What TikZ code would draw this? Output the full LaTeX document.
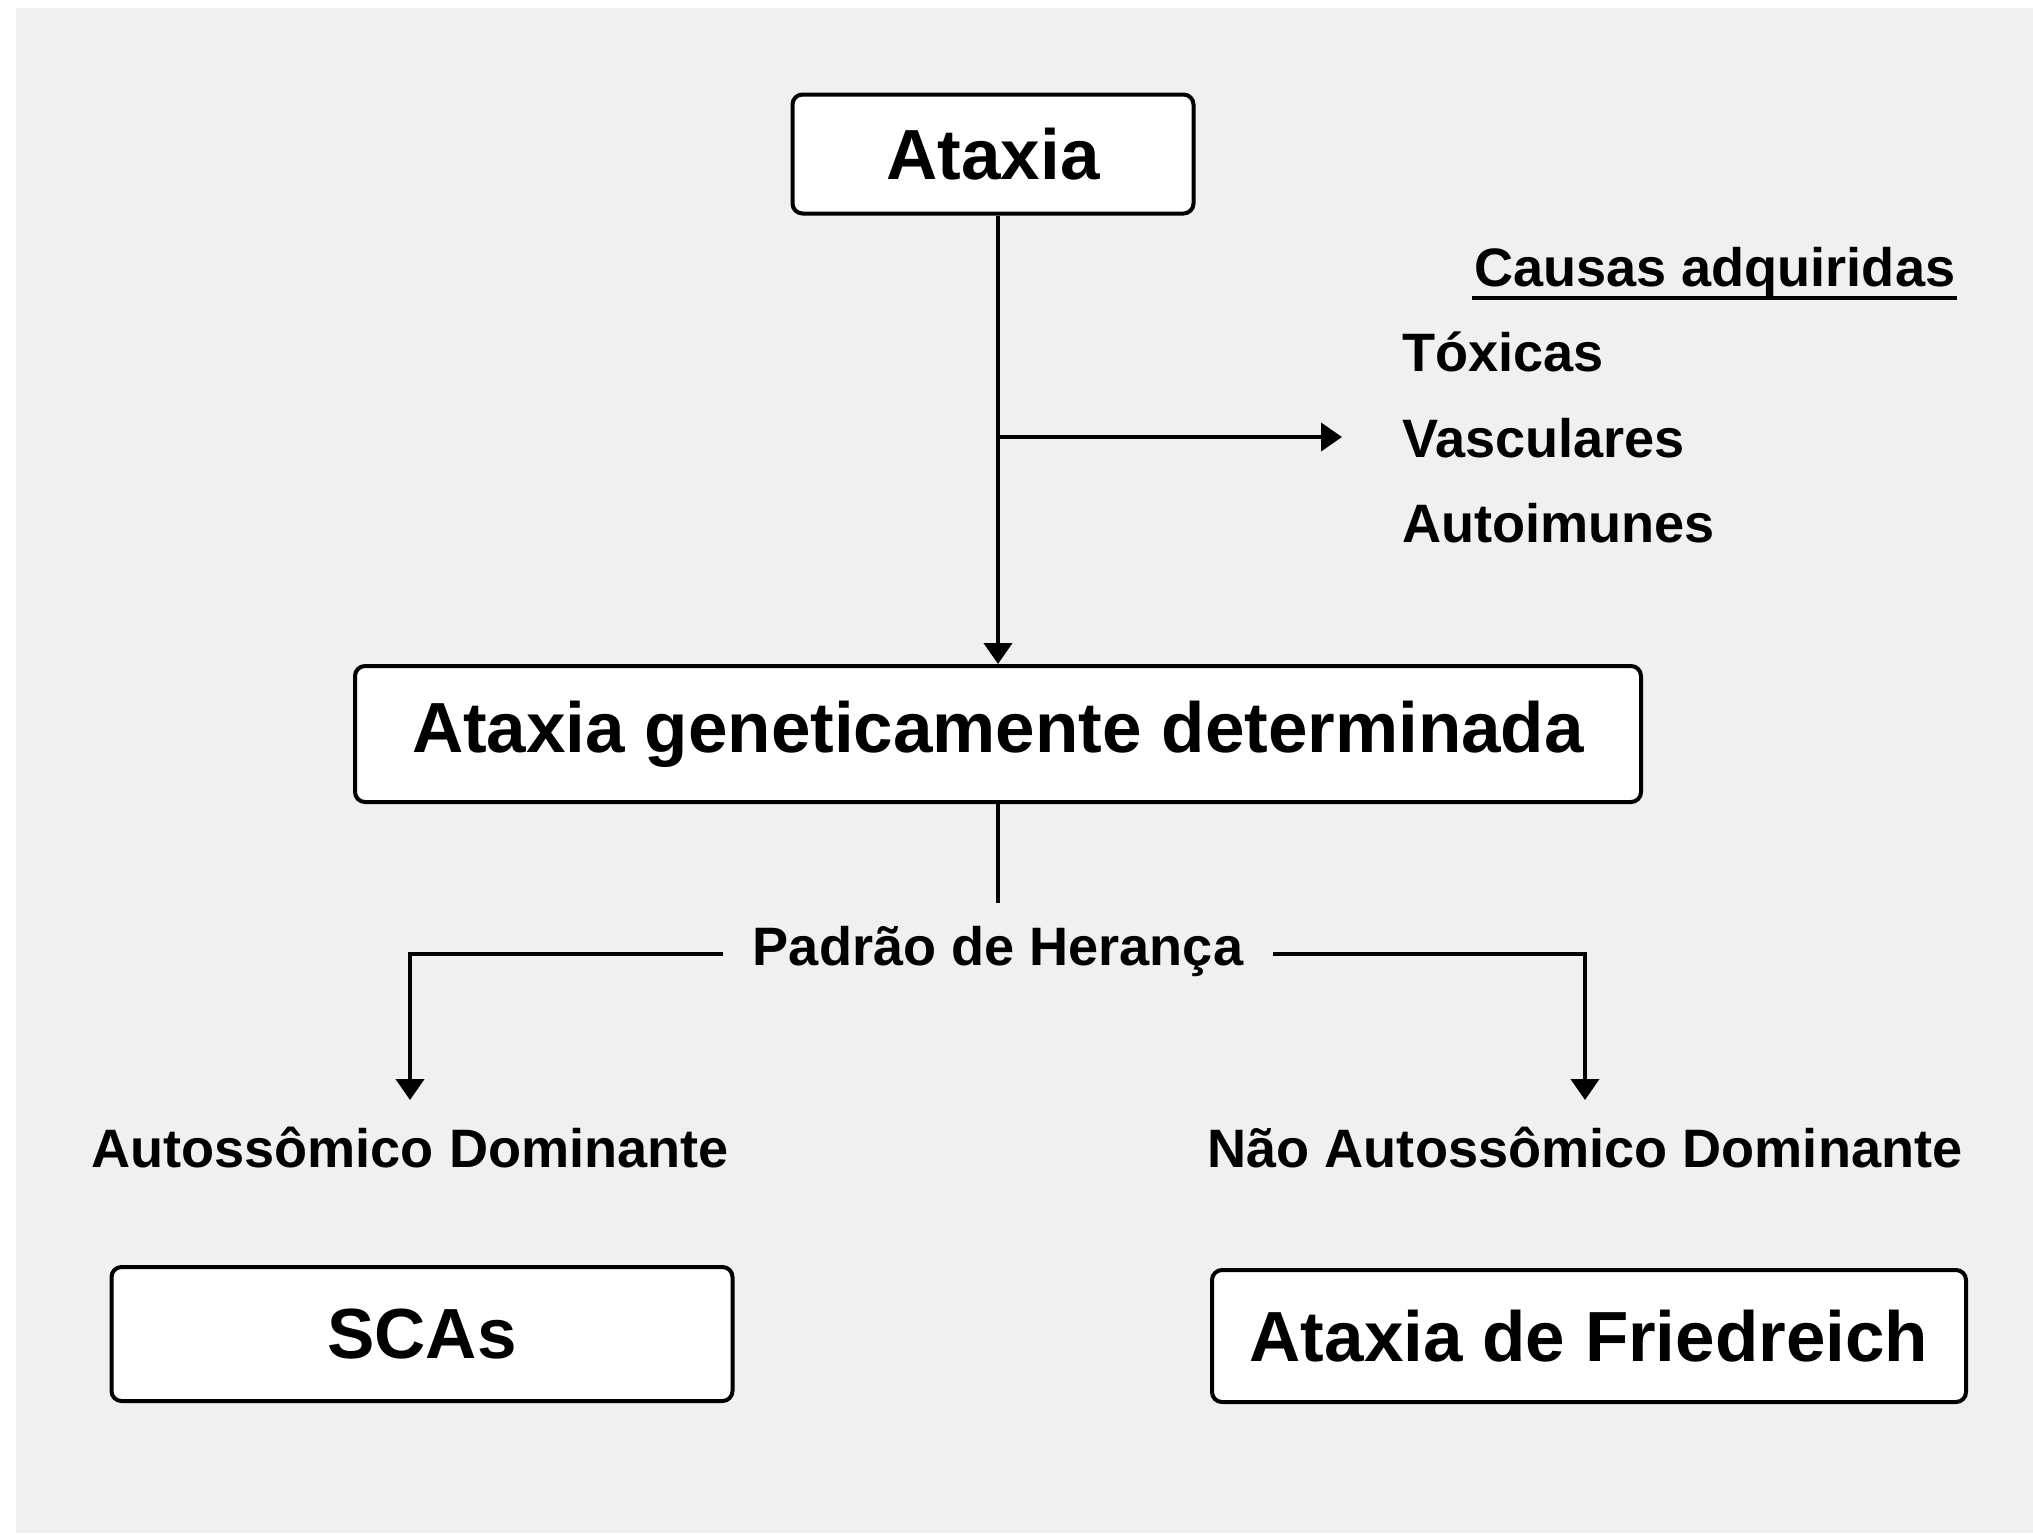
\documentclass[tikz,border=0pt]{standalone}
\usepackage{fontspec}
\setmainfont{Liberation Sans}
\usetikzlibrary{arrows.meta, positioning}
\definecolor{bggrey}{HTML}{F0F0F0}

\begin{document}
\begin{tikzpicture}[x=0.1mm, y=-0.1mm,
  line width=0.4mm,
  box/.style={draw, fill=white, rounded corners=1mm, font=\fontsize{20.2}{24}\selectfont\bfseries},
  lbl/.style={font=\fontsize{15.4}{18}\selectfont\bfseries, inner xsep=2.8mm, inner ysep=2.5mm, text height=4mm, text depth=1.2mm},
  cause/.style={lbl, inner sep=0pt, text depth=0pt},
  arr/.style={-{Triangle[length=2.1mm, width=2.8mm]}}]

  \useasboundingbox (0,0) rectangle (2033,1533);
  \fill[bggrey] (16,8) rectangle (2033,1533);

  \node[box, minimum width=40.1mm, minimum height=11.9mm] (ataxia) at (993,154) {Ataxia};
  \node[box, minimum width=128.6mm, minimum height=13.6mm] (genet) at (998,734) {Ataxia geneticamente determinada};

  % causas adquiridas
  \node[cause, anchor=base west] (causas) at (1472,286) {Causas adquiridas};
  \draw[line width=0.35mm] ([yshift=-1.2mm]causas.base west) -- ([yshift=-1.2mm]causas.base east);
  \node[cause, anchor=base west] (tox) at (1400,371) {Tóxicas};
  \node[cause, below=4.2mm of tox.south west, anchor=north west] (vasc) {Vasculares};
  \node[cause, below=4.1mm of vasc.south west, anchor=north west] (autoi) {Autoimunes};

  \coordinate (fork) at (genet.north |- vasc.west);
  \draw[arr] (ataxia.south -| genet.north) -- (genet.north);
  \draw[arr, shorten >=5.8mm] (fork) -- (vasc.west);

  % padrao de heranca
  \node[lbl, text height=3.5mm, below=9.9mm of genet] (padrao) {Padrão de Herança};
  \draw (genet.south) -- (padrao.north);

  \node[lbl] (autoD) at (410,1153) {Autossômico Dominante};
  \node[lbl] (nad) at (1585,1153) {Não Autossômico Dominante};
  \draw[arr] (padrao.west) -| (autoD.north);
  \draw[arr] (padrao.east) -| (nad.north);

  \node[box, minimum width=62.1mm, minimum height=13.4mm] (scas) at (422,1334) {SCAs};
  \node[box, minimum width=75.4mm, minimum height=13.2mm] (fried) at (1589,1336) {Ataxia de Friedreich};
\end{tikzpicture}
\end{document}
